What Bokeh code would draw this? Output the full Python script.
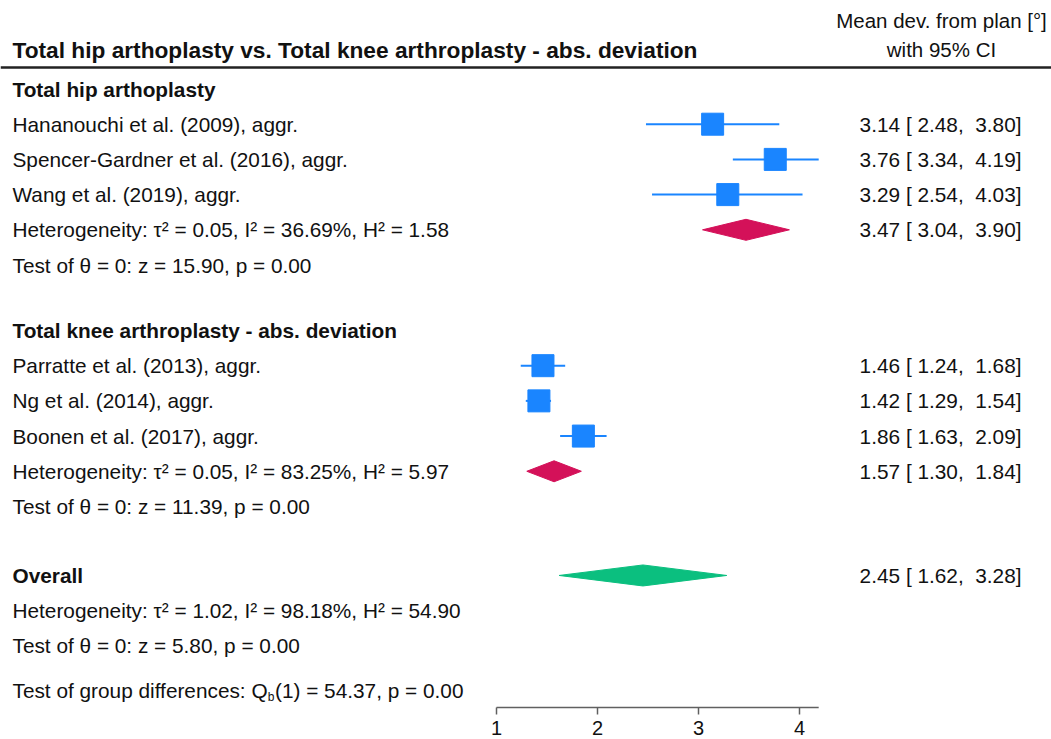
from bokeh.plotting import figure
from bokeh.models import Range1d
from bokeh.core.properties import value
from bokeh.embed import file_html
from bokeh.resources import INLINE

# ---------------- data ----------------
title = "Total hip arthoplasty vs. Total knee arthroplasty - abs. deviation"
col_header_1 = "Mean dev. from plan [°]"
col_header_2 = "with 95% CI"

tha_name = "Total hip arthoplasty"
tha_studies = ["Hananouchi et al. (2009), aggr.",
               "Spencer-Gardner et al. (2016), aggr.",
               "Wang et al. (2019), aggr."]
tha_est = [3.14, 3.76, 3.29]
tha_lo = [2.48, 3.34, 2.54]
tha_hi = [3.80, 4.19, 4.03]
tha_pool = [3.47, 3.04, 3.90]
tha_het = "Heterogeneity: τ² = 0.05, I² = 36.69%, H² = 1.58"
tha_test = "Test of θ = 0: z = 15.90, p = 0.00"

tka_name = "Total knee arthroplasty - abs. deviation"
tka_studies = ["Parratte et al. (2013), aggr.",
               "Ng et al. (2014), aggr.",
               "Boonen et al. (2017), aggr."]
tka_est = [1.46, 1.42, 1.86]
tka_lo = [1.24, 1.29, 1.63]
tka_hi = [1.68, 1.54, 2.09]
tka_pool = [1.57, 1.30, 1.84]
tka_het = "Heterogeneity: τ² = 0.05, I² = 83.25%, H² = 5.97"
tka_test = "Test of θ = 0: z = 11.39, p = 0.00"

overall_name = "Overall"
overall_pool = [2.45, 1.62, 3.28]
overall_het = "Heterogeneity: τ² = 1.02, I² = 98.18%, H² = 54.90"
overall_test = "Test of θ = 0: z = 5.80, p = 0.00"

group_pre = "Test of group differences: Q"
group_sub = "b"
group_post = "(1) = 54.37, p = 0.00"

x_ticks = [1, 2, 3, 4]
axis_end = 4.19

# ---------------- layout ----------------
W, H = 1051, 739
PX_PER_UNIT = 101.0
X_AT_PX0 = 1 - 496 / PX_PER_UNIT


def px2x(px):
    return X_AT_PX0 + px / PX_PER_UNIT


PITCH = 35.2
BASE = 88.5


def ys(slot):
    return BASE + slot * PITCH


FONT = value("Liberation Sans")
FS_NUM = 20.8
FS = f"{FS_NUM}px"
TXT = "#111111"
BLUE = "#1a85ff"
PINK = "#d41159"
GREEN = "#0bbf7f"
SQ = 22
DIA_H = 10.5  # half height in px

p = figure(width=W, height=H, x_range=Range1d(X_AT_PX0, X_AT_PX0 + W / PX_PER_UNIT),
           y_range=Range1d(H, 0), x_axis_type=None, y_axis_type=None,
           output_backend="svg", toolbar_location=None, min_border=0)
p.grid.visible = False
p.outline_line_color = None
p.background_fill_color = "white"
p.border_fill_color = "white"

LX = px2x(12)
RX = px2x(1021)
HX = px2x(941)


def left_text(y, t, bold=False):
    p.text([LX], [y], text=[t], text_font=FONT, text_font_size=FS,
           text_baseline="middle", text_align="left", text_color=TXT,
           text_font_style="bold" if bold else "normal")


def right_text(y, t):
    p.text([RX], [y], text=[t], text_font=FONT, text_font_size=FS,
           text_baseline="middle", text_align="right", text_color=TXT)


def ci_fmt(e, lo, hi):
    nb = "\u00a0"
    return f"{e:.2f} [{lo:5.2f}, {hi:5.2f}]".replace("  ", " " + nb).replace("[ ", "[" + nb)


# header
p.text([LX], [49], text=[title], text_font=FONT, text_font_size="22.7px",
       text_font_style="bold", text_baseline="middle", text_color=TXT)
p.text([HX, HX], [20, 49], text=[col_header_1, col_header_2], text_font=FONT,
       text_font_size="20.5px", text_baseline="middle", text_align="center", text_color=TXT)
p.segment(x0=[px2x(0)], y0=[67], x1=[px2x(W)], y1=[67], line_color="#222222", line_width=2.5)


def group(start_slot, name, studies, est, lo, hi, pool, het, test, color):
    left_text(ys(start_slot), name, bold=True)
    yy = [ys(start_slot + 1 + i) for i in range(len(studies))]
    for y, s, e, l, h in zip(yy, studies, est, lo, hi):
        left_text(y, s)
        right_text(y, ci_fmt(e, l, h))
    p.segment(x0=lo, y0=yy, x1=hi, y1=yy, line_color=BLUE, line_width=2)
    p.scatter(x=est, y=yy, marker="square", size=SQ, fill_color=BLUE, line_color=BLUE)
    yh = ys(start_slot + 1 + len(studies))
    e, l, h = pool
    p.patch([l, e, h, e], [yh, yh - DIA_H, yh, yh + DIA_H], fill_color=color, line_color=color)
    left_text(yh, het)
    right_text(yh, ci_fmt(e, l, h))
    left_text(ys(start_slot + 2 + len(studies)), test)


group(0, tha_name, tha_studies, tha_est, tha_lo, tha_hi, tha_pool, tha_het, tha_test, PINK)
group(6.86, tka_name, tka_studies, tka_est, tka_lo, tka_hi, tka_pool, tka_het, tka_test, PINK)

yo = ys(13.82)
left_text(yo, overall_name, bold=True)
e, l, h = overall_pool
p.patch([l, e, h, e], [yo, yo - DIA_H, yo, yo + DIA_H], fill_color=GREEN, line_color=GREEN)
right_text(yo, ci_fmt(e, l, h))
left_text(ys(14.82), overall_het)
left_text(ys(15.82), overall_test)

# group difference with subscript
ARIAL = {' ': 278, 'T': 611, 'e': 556, 's': 500, 't': 278, 'o': 556, 'f': 278, 'g': 556,
         'r': 333, 'u': 556, 'p': 556, 'd': 556, 'i': 222, 'n': 556, 'c': 500, ':': 278,
         'Q': 778, 'b': 556}


def tw(s, fs):
    return sum(ARIAL.get(ch, 556) for ch in s) / 1000 * fs


yg = ys(17.09)
left_text(yg, group_pre)
x_sub_px = 12 + tw(group_pre, FS_NUM) - 2.5
SUB_FS = 12
p.text([px2x(x_sub_px)], [yg + 6], text=[group_sub], text_font=FONT, text_font_size=f"{SUB_FS}px",
       text_baseline="middle", text_color=TXT)
p.text([px2x(x_sub_px + tw(group_sub, SUB_FS) + 0.5)], [yg], text=[group_post], text_font=FONT,
       text_font_size=FS, text_baseline="middle", text_color=TXT)

# x axis drawn at the bottom
AX_Y = 707
AX_C = "#606060"
p.segment(x0=[x_ticks[0]], y0=[AX_Y], x1=[axis_end], y1=[AX_Y], line_color=AX_C, line_width=1.5)
p.segment(x0=x_ticks, y0=[AX_Y] * len(x_ticks), x1=x_ticks, y1=[AX_Y + 7] * len(x_ticks),
          line_color=AX_C, line_width=1.5)
p.text(x=x_ticks, y=[724] * len(x_ticks), text=[str(t) for t in x_ticks], text_font=FONT,
       text_font_size="20px", text_baseline="top", text_align="center", text_color=TXT,
       y_offset=-4)

open("out.html", "w").write(file_html(p, INLINE))
